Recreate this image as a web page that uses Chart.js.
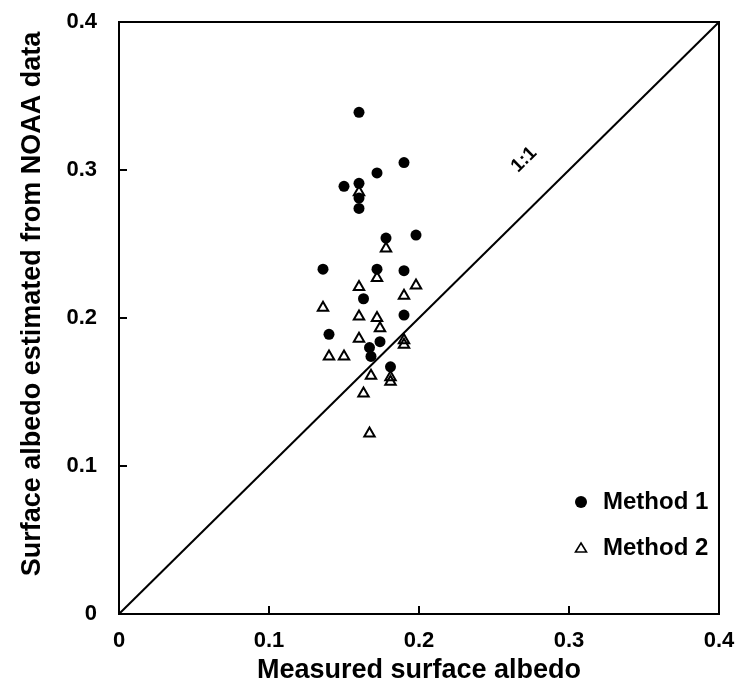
<!DOCTYPE html>
<html>
<head>
<meta charset="utf-8">
<script src="https://cdn.jsdelivr.net/npm/chart.js@4.4.1/dist/chart.umd.min.js"></script>
<style>
  html, body { margin: 0; padding: 0; background: #fff; }
  #wrap { width: 735px; height: 691px; }
</style>
</head>
<body>
<div id="wrap"><canvas id="chart"></canvas></div>
<script>
// Method 1 (filled circles)
const method1X = [0.160, 0.190, 0.172, 0.150, 0.160, 0.160, 0.160, 0.178, 0.198, 0.136,
                  0.172, 0.190, 0.163, 0.190, 0.140, 0.174, 0.167, 0.168, 0.181];
const method1Y = [0.339, 0.305, 0.298, 0.289, 0.291, 0.281, 0.274, 0.254, 0.256, 0.233,
                  0.233, 0.232, 0.213, 0.202, 0.189, 0.184, 0.180, 0.174, 0.167];
// Method 2 (open triangles)
const method2X = [0.160, 0.178, 0.172, 0.160, 0.198, 0.190, 0.136, 0.160, 0.172, 0.174,
                  0.160, 0.190, 0.190, 0.140, 0.150, 0.168, 0.181, 0.181, 0.163, 0.167];
const method2Y = [0.285, 0.247, 0.227, 0.221, 0.222, 0.215, 0.207, 0.201, 0.200, 0.193,
                  0.186, 0.185, 0.182, 0.174, 0.174, 0.161, 0.160, 0.157, 0.149, 0.122];
const axisTicks = [0, 0.1, 0.2, 0.3, 0.4];
const oneToOne = [0, 0.4];

const FONT = "'Liberation Sans', Arial, Helvetica, sans-serif";
const Y_TITLE = "Surface albedo estimated from NOAA data";

function pairs(xs, ys) {
  return xs.map((x, i) => ({ x: x, y: ys[i] }));
}

function tickLabel(v) {
  return v === 0 ? "0" : v.toFixed(1);
}

// frame, inward tick marks, y title, 1:1 label and legend
const framePlugin = {
  id: "frame",
  afterDraw(chart) {
    const ctx = chart.ctx;
    const a = chart.chartArea;
    const xs = chart.scales.x;
    const ys = chart.scales.y;
    ctx.save();
    ctx.strokeStyle = "#000";
    ctx.lineWidth = 2;
    ctx.strokeRect(a.left, a.top, a.right - a.left, a.bottom - a.top);
    ctx.beginPath();
    axisTicks.forEach((v) => {
      const px = xs.getPixelForValue(v);
      ctx.moveTo(px, a.bottom);
      ctx.lineTo(px, a.bottom - 8);
      const py = ys.getPixelForValue(v);
      ctx.moveTo(a.left, py);
      ctx.lineTo(a.left + 8, py);
    });
    ctx.stroke();

    ctx.fillStyle = "#000";

    // y axis title (sits a little above the plot centre in the original)
    ctx.translate(33, (a.top + a.bottom) / 2 - 14);
    ctx.rotate(-Math.PI / 2);
    ctx.font = "bold 27px " + FONT;
    ctx.textAlign = "center";
    ctx.textBaseline = "middle";
    ctx.fillText(Y_TITLE, 0, 0);
    ctx.setTransform(1, 0, 0, 1, 0, 0);

    // 1:1 label along the diagonal
    const lx = xs.getPixelForValue(0.27);
    const ly = ys.getPixelForValue(0.307);
    const ang = Math.atan2(ys.getPixelForValue(0.4) - ys.getPixelForValue(0),
                           xs.getPixelForValue(0.4) - xs.getPixelForValue(0));
    ctx.translate(lx, ly);
    ctx.rotate(ang);
    ctx.font = "bold 19px " + FONT;
    ctx.fillText("1:1", 0, 0);
    ctx.setTransform(1, 0, 0, 1, 0, 0);

    // legend
    const mx = 581;
    const tx = 603;
    const y1 = a.bottom - 112;
    const y2 = a.bottom - 66;
    ctx.beginPath();
    ctx.arc(mx, y1, 6, 0, Math.PI * 2);
    ctx.fill();
    ctx.lineWidth = 1.6;
    ctx.beginPath();
    ctx.moveTo(mx, y2 - 5);
    ctx.lineTo(mx + 5.5, y2 + 4);
    ctx.lineTo(mx - 5.5, y2 + 4);
    ctx.closePath();
    ctx.stroke();
    ctx.font = "bold 24px " + FONT;
    ctx.textAlign = "left";
    ctx.fillText("Method 1", tx, y1);
    ctx.fillText("Method 2", tx, y2);
    ctx.restore();
  },
};

const config = {
  type: "scatter",
  data: {
    datasets: [
      {
        label: "1:1",
        data: pairs(oneToOne, oneToOne),
        showLine: true,
        borderColor: "#000",
        borderWidth: 2,
        pointRadius: 0,
        fill: false,
      },
      {
        label: "Method 1",
        data: pairs(method1X, method1Y),
        pointStyle: "circle",
        pointRadius: 5.5,
        backgroundColor: "#000",
        borderColor: "#000",
        borderWidth: 0,
      },
      {
        label: "Method 2",
        data: pairs(method2X, method2Y),
        pointStyle: "triangle",
        pointRadius: 6,
        backgroundColor: "rgba(0,0,0,0)",
        borderColor: "#000",
        borderWidth: 2,
      },
    ],
  },
  options: {
    responsive: true,
    maintainAspectRatio: false,
    animation: false,
    layout: { padding: { top: 22, right: 16, left: 0, bottom: 0 } },
    plugins: {
      legend: { display: false },
      tooltip: { enabled: false },
    },
    scales: {
      x: {
        type: "linear",
        min: 0,
        max: 0.4,
        afterBuildTicks: (s) => { s.ticks = axisTicks.map((v) => ({ value: v })); },
        afterFit: (s) => {
          s.height = 77;
          s.paddingLeft = 0;
          s.paddingRight = 0;
        },
        grid: { display: false, drawTicks: false },
        border: { display: false },
        ticks: {
          color: "#000",
          padding: 14,
          maxRotation: 0,
          font: { family: FONT, size: 22, weight: "bold" },
          callback: tickLabel,
        },
        title: {
          display: true,
          text: "Measured surface albedo",
          color: "#000",
          padding: { top: 0, bottom: 4 },
          font: { family: FONT, size: 27, weight: "bold" },
        },
      },
      y: {
        type: "linear",
        min: 0,
        max: 0.4,
        afterBuildTicks: (s) => { s.ticks = axisTicks.map((v) => ({ value: v })); },
        afterFit: (s) => {
          s.width = 119;
          s.paddingTop = 0;
          s.paddingBottom = 0;
        },
        grid: { display: false, drawTicks: false },
        border: { display: false },
        ticks: {
          color: "#000",
          padding: 22,
          font: { family: FONT, size: 22, weight: "bold" },
          callback: tickLabel,
        },
      },
    },
  },
  plugins: [framePlugin],
};

new Chart(document.getElementById("chart"), config);
</script>
</body>
</html>
